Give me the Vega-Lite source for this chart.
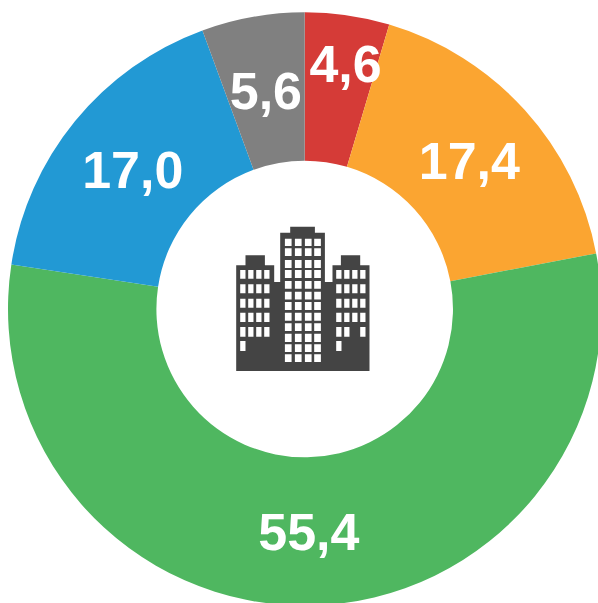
{
"$schema":"https://vega.github.io/schema/vega-lite/v6.json",
"width":598,"height":603,
"autosize":{"type":"none"},
"padding":{"left":5.7,"top":7.5,"right":0,"bottom":0},
"background":"white",
"view":{"stroke":null},
"layer":[
{"data":{"name":"d","values":[
{"i":1,"value":4.6,"label":"4,6","name":"red"},
{"i":2,"value":17.4,"label":"17,4","name":"orange"},
{"i":3,"value":55.4,"label":"55,4","name":"green"},
{"i":4,"value":17.0,"label":"17,0","name":"blue"},
{"i":5,"value":5.6,"label":"5,6","name":"gray"}]},
"layer":[
{"mark":{"type":"arc","radius":296.7,"radius2":148.3},
"encoding":{"theta":{"field":"value","type":"quantitative","stack":true},"order":{"field":"i","type":"ordinal"},
"color":{"field":"name","type":"nominal","legend":null,"scale":{"domain":["red","orange","green","blue","gray"],"range":["#D53B37","#FBA531","#4FB760","#2299D4","#808080"]}}}},
{"mark":{"type":"text","radius":222,"font":"Liberation Sans","fontWeight":"bold","fontSize":52,"fill":"white","baseline":"middle","align":"center","dy":3},
"encoding":{"theta":{"field":"value","type":"quantitative","stack":true},"order":{"field":"i","type":"ordinal"},
"text":{"condition":{"test":"datum.label=='4,6'","value":""},"field":"label"}}},
{"mark":{"type":"text","radius":249,"font":"Liberation Sans","fontWeight":"bold","fontSize":52,"fill":"white","baseline":"middle","align":"center","dy":3,"dx":5},
"encoding":{"theta":{"field":"value","type":"quantitative","stack":true},"order":{"field":"i","type":"ordinal"},
"text":{"condition":{"test":"datum.label!='4,6'","value":""},"field":"label"}}}
]},
{"data":{"values":[{"icon":"building"}]},
"mark":{"type":"point","filled":true,"fill":"#444444","opacity":1,"size":40000,"strokeWidth":0,"yOffset":-1,
"shape":"M-.685 .63V-.427H-.592V-.527H-.398V-.427H-.305V-.26H-.245V-.753H-.145V-.813H.102V-.753H.202V-.26H.278V-.427H.362V-.527H.555V-.427H.648V.63Z M-.645 -.38v.087h.053v-.087z M-.565 -.38v.087h.053v-.087z M-.485 -.38v.087h.053v-.087z M-.405 -.38v.087h.053v-.087z M-.645 -.237v.09h.053v-.09z M-.565 -.237v.09h.053v-.09z M-.485 -.237v.09h.053v-.09z M-.405 -.237v.09h.053v-.09z M-.645 -.093v.09h.053v-.09z M-.565 -.093v.09h.053v-.09z M-.485 -.093v.09h.053v-.09z M-.405 -.093v.09h.053v-.09z M-.645 .047v.093h.053v-.093z M-.565 .047v.093h.053v-.093z M-.485 .047v.093h.053v-.093z M-.405 .047v.093h.053v-.093z M-.645 .19v.097h.053v-.097z M-.565 .19v.097h.053v-.097z M-.485 .19v.097h.053v-.097z M-.405 .19v.097h.053v-.097z M-.645 .33v.1h.053v-.1z M.315 -.38v.087h.053v-.087z M.395 -.38v.087h.053v-.087z M.475 -.38v.087h.053v-.087z M.555 -.38v.087h.053v-.087z M.315 -.237v.09h.053v-.09z M.395 -.237v.09h.053v-.09z M.475 -.237v.09h.053v-.09z M.555 -.237v.09h.053v-.09z M.315 -.093v.09h.053v-.09z M.395 -.093v.09h.053v-.09z M.475 -.093v.09h.053v-.09z M.555 -.093v.09h.053v-.09z M.315 .047v.093h.053v-.093z M.395 .047v.093h.053v-.093z M.475 .047v.093h.053v-.093z M.555 .047v.093h.053v-.093z M.315 .19v.097h.053v-.097z M.395 .19v.097h.053v-.097z M.555 .19v.097h.053v-.097z M.315 .33v.1h.053v-.1z M-.198 -.693v.073h.067v-.073z M-.098 -.693v.073h.067v-.073z M.002 -.693v.073h.067v-.073z M.095 -.693v.073h.067v-.073z M-.198 -.597v.077h.067v-.077z M-.098 -.597v.077h.067v-.077z M.002 -.597v.077h.067v-.077z M.095 -.597v.077h.067v-.077z M-.198 -.48v.08h.067v-.08z M-.098 -.48v.08h.067v-.08z M.002 -.48v.08h.067v-.08z M.095 -.48v.08h.067v-.08z M-.198 -.38v.08h.067v-.08z M-.098 -.38v.08h.067v-.08z M.002 -.38v.08h.067v-.08z M.095 -.38v.08h.067v-.08z M-.198 -.27v.077h.067v-.077z M-.098 -.27v.077h.067v-.077z M.002 -.27v.077h.067v-.077z M.095 -.27v.077h.067v-.077z M-.198 -.163v.077h.067v-.077z M-.098 -.163v.077h.067v-.077z M.002 -.163v.077h.067v-.077z M.095 -.163v.077h.067v-.077z M-.198 -.06v.08h.067v-.08z M-.098 -.06v.08h.067v-.08z M.002 -.06v.08h.067v-.08z M.095 -.06v.08h.067v-.08z M-.198 .047v.08h.067v-.08z M-.098 .047v.08h.067v-.08z M.002 .047v.08h.067v-.08z M.095 .047v.08h.067v-.08z M-.198 .153v.077h.067v-.077z M-.098 .153v.077h.067v-.077z M.002 .153v.077h.067v-.077z M.095 .153v.077h.067v-.077z M-.198 .257v.083h.067v-.083z M-.098 .257v.083h.067v-.083z M.002 .257v.083h.067v-.083z M.095 .257v.083h.067v-.083z M-.198 .363v.077h.067v-.077z M-.098 .363v.077h.067v-.077z M.002 .363v.077h.067v-.077z M.095 .363v.077h.067v-.077z M-.198 .463v.077h.067v-.077z M-.098 .463v.077h.067v-.077z M.002 .463v.077h.067v-.077z M.095 .463v.077h.067v-.077z"},
"encoding":{}}
]
}
